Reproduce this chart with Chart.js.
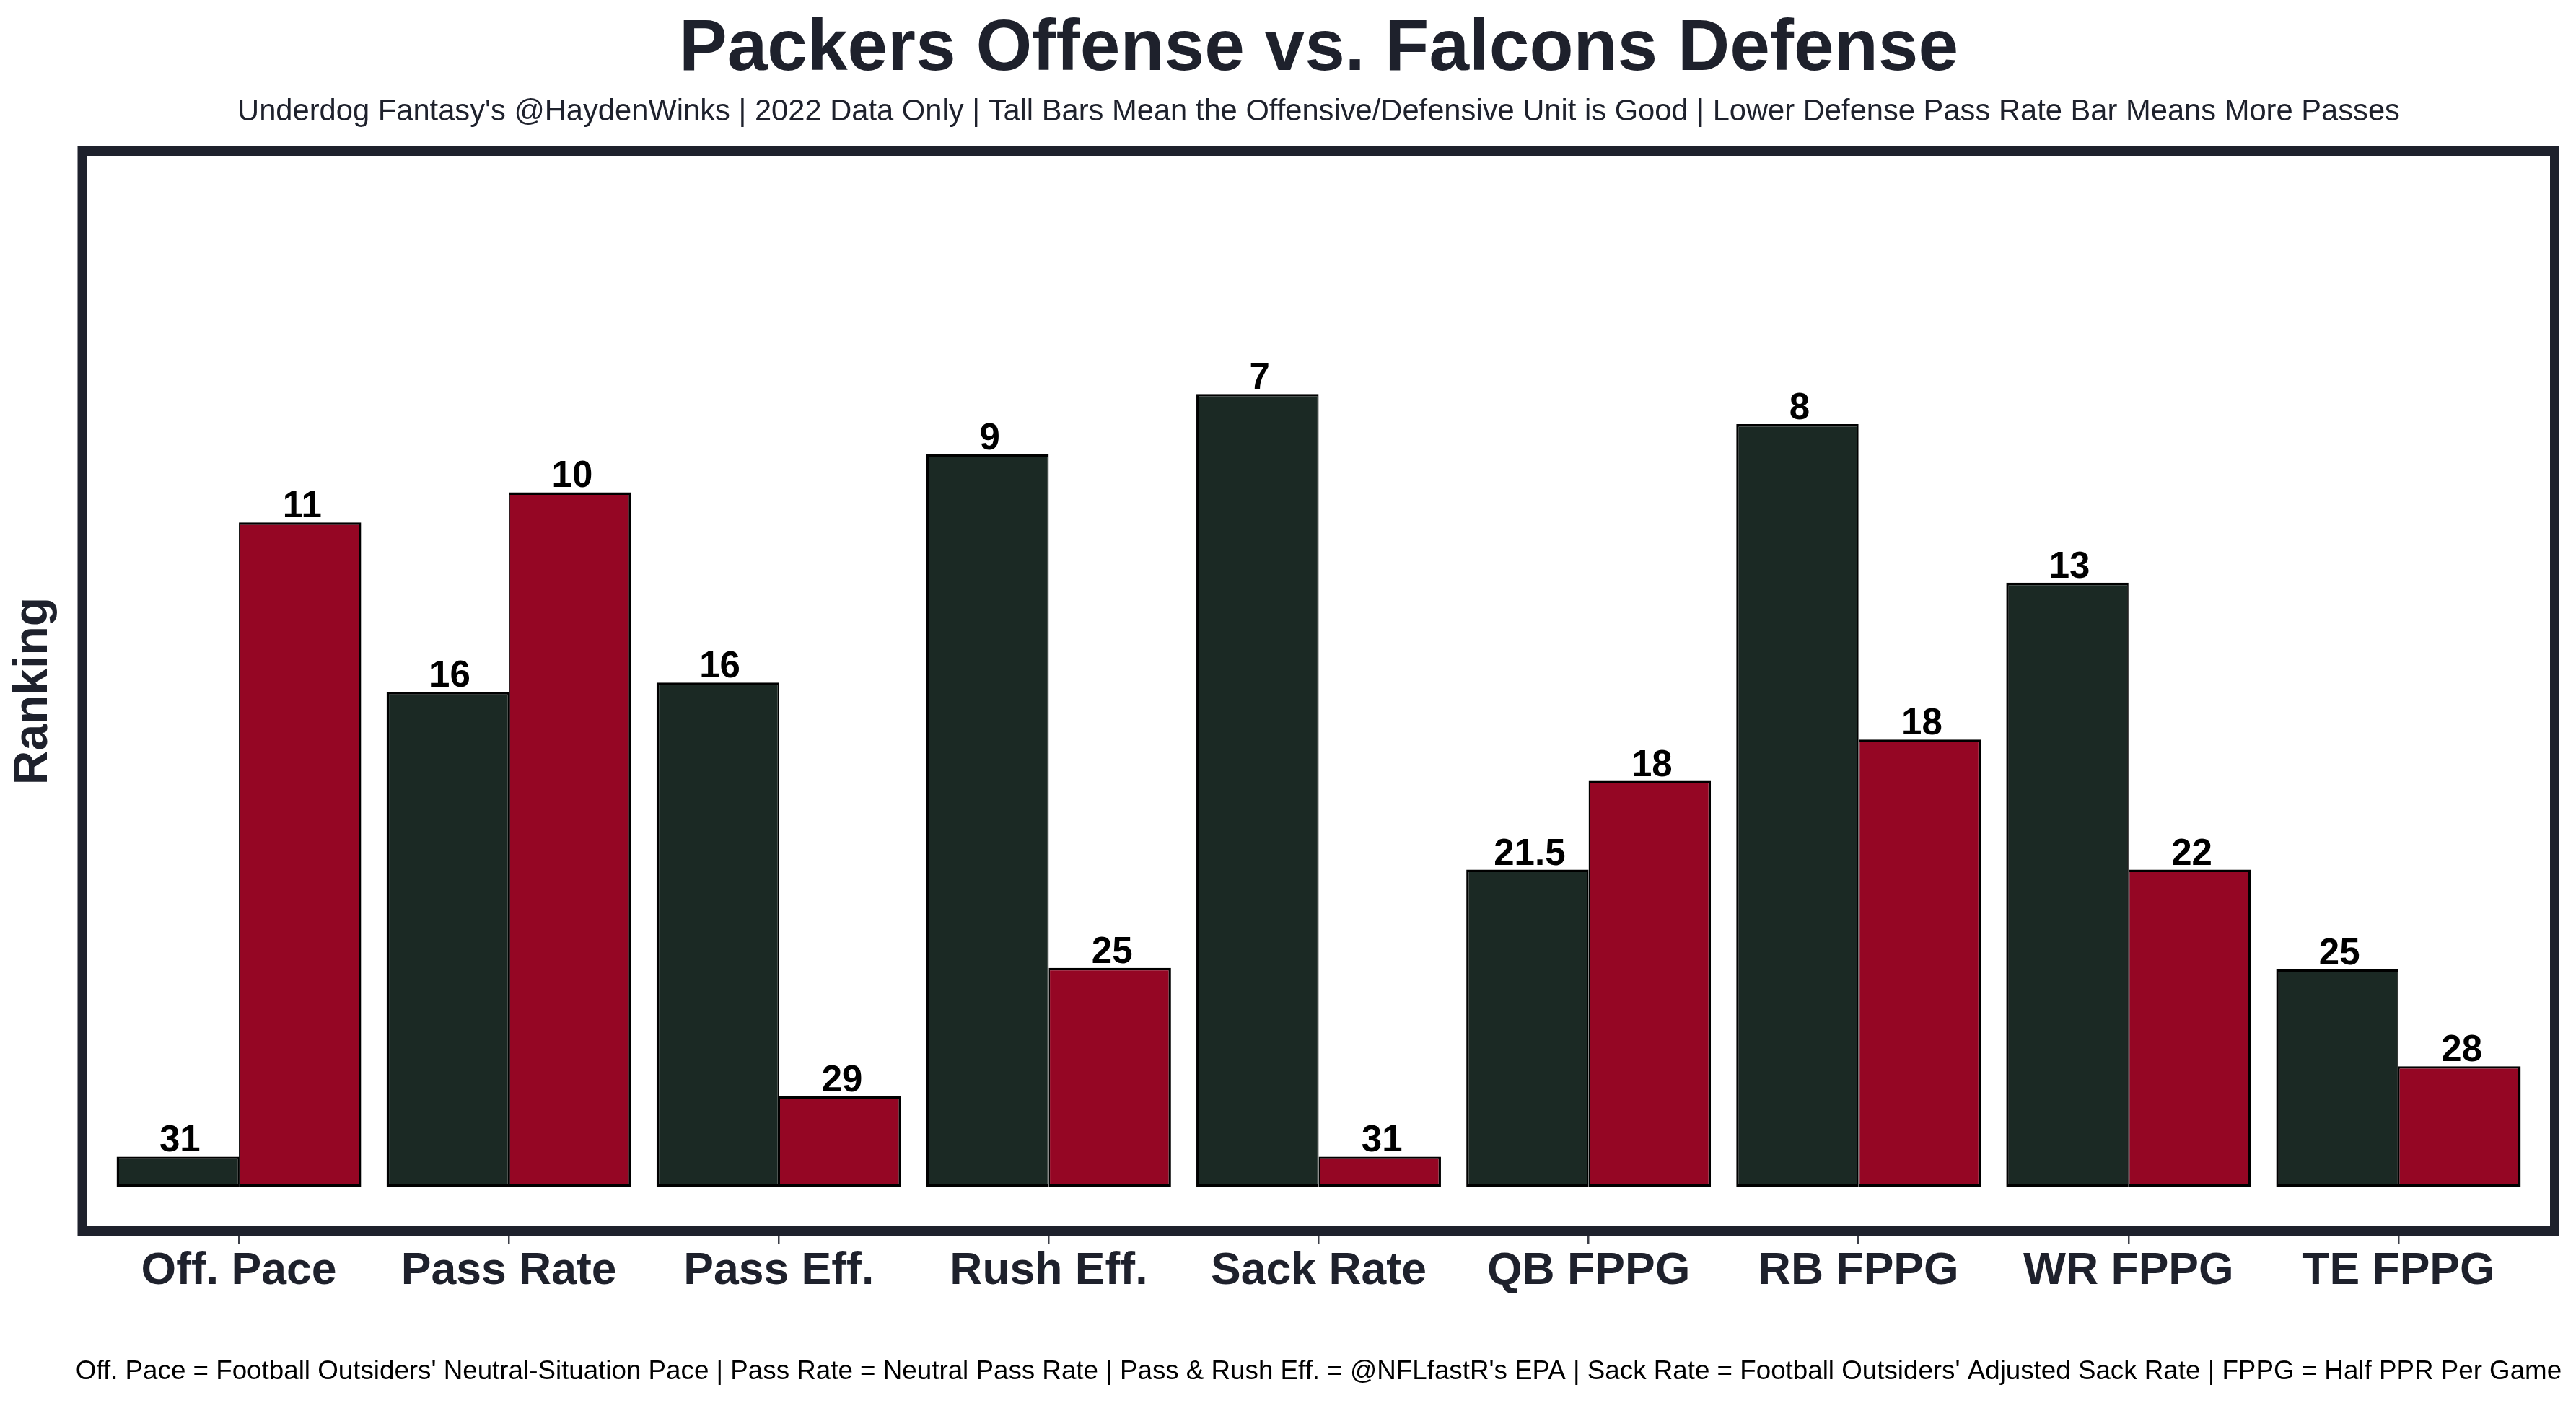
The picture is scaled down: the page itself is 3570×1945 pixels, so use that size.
<!DOCTYPE html>
<html>
<head>
<meta charset="utf-8">
<script src="https://cdn.jsdelivr.net/npm/chart.js@4.4.1/dist/chart.umd.min.js"></script>
<style>
  body { margin: 0; background: #fff; }
  canvas { display: block; }
</style>
</head>
<body>
<canvas id="myChart" width="3570" height="1945"></canvas>
<script>
// Packers offense vs Falcons defense, rank labels + bar heights
const categories = ['Off. Pace', 'Pass Rate', 'Pass Eff.', 'Rush Eff.', 'Sack Rate', 'QB FPPG', 'RB FPPG', 'WR FPPG', 'TE FPPG'];
const offenseRank = [31, 16, 16, 9, 7, 21.5, 8, 13, 25];
const defenseRank = [11, 10, 29, 25, 31, 18, 18, 22, 28];
// bar heights (taller = better unit)
const offenseBar = [0.95, 15.6, 15.9, 23.1, 25.0, 10.0, 24.05, 19.05, 6.85];
const defenseBar = [20.95, 21.9, 2.85, 6.9, 0.95, 12.8, 14.1, 10.0, 3.8];

const navy = '#1e212c';
const green = '#1b2924';
const red = '#950624';
const font = "'Liberation Sans', Arial, sans-serif";
const footerText = "Off. Pace = Football Outsiders' Neutral-Situation Pace | Pass Rate = Neutral Pass Rate | Pass & Rush Eff. = @NFLfastR's EPA | Sack Rate = Football Outsiders' Adjusted Sack Rate | FPPG = Half PPR Per Game";

const extras = {
    id: 'extras',
    afterDatasetsDraw(chart) {
        const ctx = chart.ctx;
        const ranks = [offenseRank, defenseRank];
        ctx.save();
        ctx.fillStyle = '#000';
        ctx.font = 'bold 51px ' + font;
        ctx.textAlign = 'center';
        ctx.textBaseline = 'alphabetic';
        chart.data.datasets.forEach((ds, i) => {
            chart.getDatasetMeta(i).data.forEach((bar, j) => {
                ctx.fillText(String(ranks[i][j]), bar.x + 3, bar.y - 7);
            });
        });
        ctx.restore();
    },
    afterDraw(chart) {
        const ctx = chart.ctx;
        const a = chart.chartArea;
        const cx = (a.left + a.right) / 2;
        ctx.save();
        // axes frame
        ctx.strokeStyle = navy;
        ctx.lineWidth = 13;
        ctx.strokeRect(a.left - 30, a.top, (a.right + 29.5) - (a.left - 30), a.bottom - a.top);
        // y title
        ctx.fillStyle = navy;
        ctx.font = 'bold 66px ' + font;
        ctx.textAlign = 'center';
        ctx.textBaseline = 'middle';
        ctx.translate(47, (a.top + a.bottom) / 2);
        ctx.rotate(-Math.PI / 2);
        ctx.fillText('Ranking', 0, 0);
        ctx.restore();
        // footer note
        ctx.save();
        ctx.fillStyle = '#000';
        ctx.font = '36.75px ' + font;
        ctx.textAlign = 'center';
        ctx.textBaseline = 'middle';
        ctx.fillText(footerText, cx, 1902);
        ctx.restore();
    }
};

const chart = new Chart(document.getElementById('myChart').getContext('2d'), {
    type: 'bar',
    data: {
        labels: categories,
        datasets: [{
            label: 'Packers Offense',
            data: offenseBar,
            backgroundColor: green,
            borderColor: '#000',
            borderWidth: { top: 3.4, left: 3.4, bottom: 3.4, right: 1.7 },
            borderSkipped: false
        }, {
            label: 'Falcons Defense',
            data: defenseBar,
            backgroundColor: red,
            borderColor: '#000',
            borderWidth: { top: 3.4, left: 1.7, bottom: 3.4, right: 3.4 },
            borderSkipped: false
        }]
    },
    options: {
        responsive: false,
        animation: false,
        devicePixelRatio: 1,
        layout: { padding: { left: 144, right: 59, top: 0, bottom: 88.5 } },
        datasets: { bar: { categoryPercentage: 0.906, barPercentage: 1 } },
        scales: {
            x: {
                grid: {
                    display: true,
                    drawOnChartArea: false,
                    drawTicks: true,
                    tickLength: 18.5,
                    offset: false,
                    color: '#3c3f48',
                    lineWidth: 2.5
                },
                border: { display: false },
                ticks: {
                    color: navy,
                    font: { family: font, size: 62.5, weight: 'bold' },
                    padding: 0,
                    maxRotation: 0,
                    autoSkip: false
                },
                afterFit: (scale) => { scale.height = 150; }
            },
            y: {
                display: false,
                min: -1.395,
                max: 32.66
            }
        },
        plugins: {
            legend: { display: false },
            tooltip: { enabled: false },
            title: {
                display: true,
                text: 'Packers Offense vs. Falcons Defense',
                fullSize: false,
                color: navy,
                font: { family: font, size: 100, weight: 'bold', lineHeight: 1 },
                padding: { top: 19, bottom: 15.75 }
            },
            subtitle: {
                display: true,
                text: "Underdog Fantasy's @HaydenWinks | 2022 Data Only | Tall Bars Mean the Offensive/Defensive Unit is Good | Lower Defense Pass Rate Bar Means More Passes",
                fullSize: false,
                color: navy,
                font: { family: font, size: 41.7, lineHeight: 1 },
                padding: { top: 0, bottom: 33.05 }
            }
        }
    },
    plugins: [extras]
});
</script>
</body>
</html>
